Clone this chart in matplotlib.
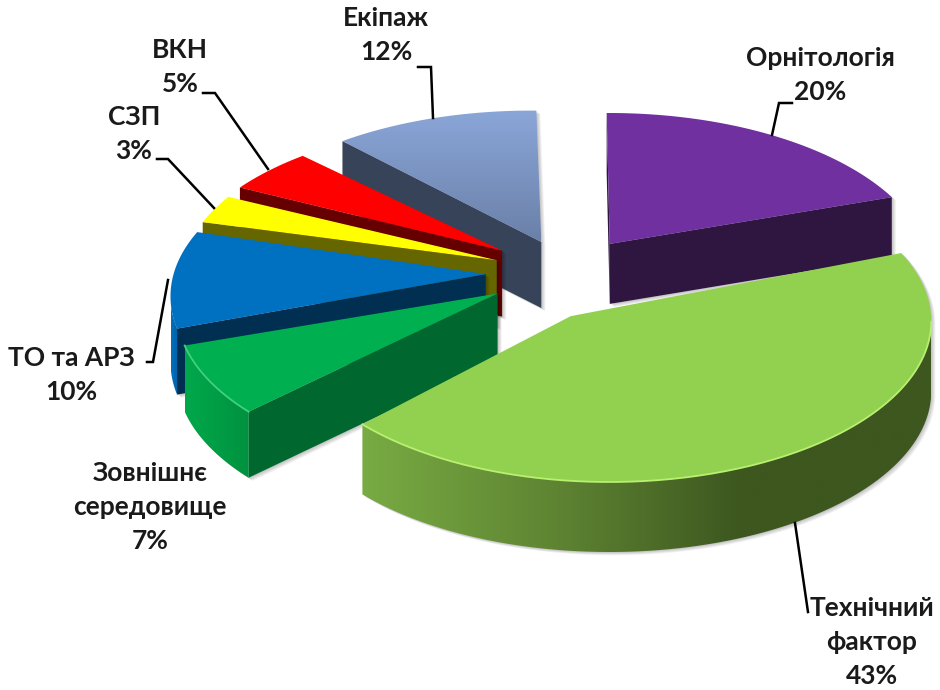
import numpy as np
import matplotlib
matplotlib.use('Agg')
from matplotlib import pyplot as plt
from matplotlib.colors import LinearSegmentedColormap
from matplotlib.patches import Polygon

plt.rcParams['font.family'] = ['Lato', 'Noto Sans', 'DejaVu Sans']

names = ['Орнітологія', 'Технічний\nфактор', 'Зовнішнє\nсередовище', 'ТО та АРЗ', 'СЗП', 'ВКН', 'Екіпаж']
shares = [20, 43, 7, 10, 3, 5, 12]

# view of each exploded slice: ellipse centre, perspective shift, turn in degrees
view_x = [608.8, 609.3, 498.9, 492.5, 501.6, 497.6, 531.0]
view_y = [274.0, 321.0, 310.4, 296.3, 282.0, 284.0, 271.6]
shift_x = [0.003, -0.120, -0.004, -0.021, -0.015, 0.014, 0.032]
shift_y = [0.187, 0.030, 0.105, 0.138, 0.135, 0.207, 0.184]
turn = [-0.65, -2.7, -0.48, -1.56, -3.27, -2.62, -0.9]

RX, RY = 322, 161
depths = [60, 70, 66, 66, 66, 66, 66]
tops = ['#7030A0', '#92D050', '#00B050', '#0070C0', '#FFFF00', '#FF0000', None]
walls = ['#2E1640', '#3D571F', '#00682F', '#002F52', '#666600', '#660000', '#374359']
rim_stops = [None, ['#78AB43', '#5F8533', '#3D571F', '#3D571F'], ['#00A84B', '#00923F'], ['#0070C0', '#0062A8'], None, None, None]
bevels = [None, '#B8F070', '#40D080', None, None, None, None]

label_xy = [(820, 75), (872, 642), (150, 507), (71, 375), (134, 134), (180, 67), (386, 35)]
leaders = [[(792, 103), (779, 103), (772, 135)],
           [(795, 523), (808, 612)],
           [],
           [(147, 362), (153, 362), (168, 280)],
           [(157, 159), (168, 159), (214, 208)],
           [(203, 93), (215, 93), (268, 169)],
           [(418, 67), (431, 67), (433, 118)]]

edges = np.cumsum([0] + shares) * 3.6


def rim(theta, i):
    t = np.radians(theta + turn[i])
    w = np.stack([np.sin(t), np.cos(t)], axis=-1)
    p = np.array([shift_x[i], shift_y[i]])
    p2 = p @ p
    pw = w @ p
    par = np.outer(pw / p2, p)
    res = (p + par + np.sqrt(1 - p2) * (w - par)) / (1 + pw)[:, None]
    return np.column_stack([view_x[i] + RX * res[:, 0], view_y[i] - RY * res[:, 1]])


fig = plt.figure(figsize=(9.4, 6.9), dpi=100)
ax = fig.add_axes([0, 0, 1, 1])


def gradient(poly, stops, vertical, z):
    poly = np.asarray(poly)
    x0, y0 = poly.min(axis=0)
    x1, y1 = poly.max(axis=0)
    cmap = LinearSegmentedColormap.from_list('g', stops)
    g = np.linspace(0, 1, 256)
    g = g[:, None] if vertical else g[None, :]
    im = ax.imshow(g, cmap=cmap, extent=(x0, x1, y1, y0), aspect='auto', zorder=z, origin='upper')
    clip = Polygon(poly, transform=ax.transData, fc='none', ec='none')
    ax.add_patch(clip)
    im.set_clip_path(clip)


def hull(pts):
    pts = sorted(map(tuple, pts))
    def half(seq):
        out = []
        for s in seq:
            while len(out) > 1 and np.cross(np.subtract(out[-1], out[-2]), np.subtract(s, out[-1])) <= 0:
                out.pop()
            out.append(s)
        return out[:-1]
    return half(pts) + half(pts[::-1])


for z, i in enumerate([6, 0, 5, 4, 3, 2, 1]):
    r = rim(np.linspace(edges[i], edges[i + 1], 200), i)
    apex = np.array([view_x[i] + RX * shift_x[i], view_y[i] - RY * shift_y[i]])
    poly = np.vstack([apex, r])
    d = np.array([0, depths[i]])
    base = z * 4 + 1

    shape = np.array(hull(np.vstack([poly, poly + d])))
    for k in (1, 2, 3, 4):
        ax.add_patch(Polygon(shape + [k, k * 0.8], fc='black', ec='none', alpha=0.06, zorder=base))

    # radial faces turned to the viewer
    if r[0][0] < apex[0]:
        ax.add_patch(Polygon([apex, r[0], r[0] + d, apex + d], fc=walls[i], ec='none', zorder=base + 1))
    if r[-1][0] > apex[0]:
        ax.add_patch(Polygon([apex, r[-1], r[-1] + d, apex + d], fc=walls[i], ec='none', zorder=base + 1))

    # outer face, only the part running right to left on screen
    front = np.diff(r[:, 0]) < 0
    if front.any():
        seen = r[:-1][front]
        seen = np.vstack([seen, r[1:][front][-1]])
        wall = np.vstack([seen, seen[::-1] + d])
        stops = rim_stops[i] or [walls[i], walls[i]]
        gradient(wall, stops, False, base + 1.5)
        if bevels[i]:
            ax.plot(seen[:, 0], seen[:, 1], color=bevels[i], lw=1.3, zorder=base + 2.5)

    if tops[i]:
        ax.add_patch(Polygon(poly, fc=tops[i], ec='none', zorder=base + 2))
    else:
        gradient(poly, ['#8AA6D8', '#6A80A8'], True, base + 2)

for i in range(7):
    ax.text(label_xy[i][0], label_xy[i][1], f'{names[i]}\n{shares[i]}%', ha='center', va='center', fontsize=19,
            fontweight='bold', linespacing=1.5, color='#1a1a1a', zorder=60)
    if leaders[i]:
        ax.plot(*zip(*leaders[i]), color='black', lw=1.8, zorder=59, solid_joinstyle='miter')

ax.set_xlim(0, 940)
ax.set_ylim(690, 0)
ax.axis('off')
fig.savefig('out.png', dpi=100)
